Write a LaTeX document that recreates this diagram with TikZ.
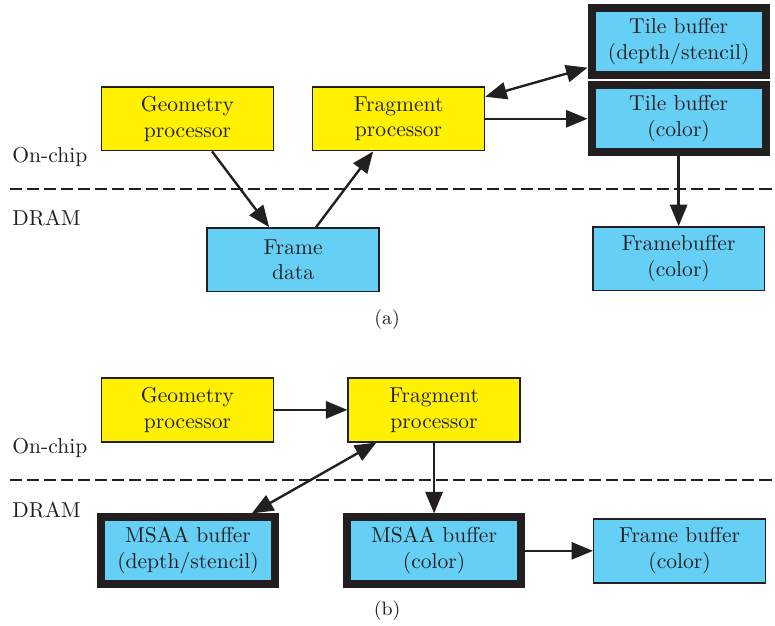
\documentclass[tikz,border=0pt]{standalone}
\usepackage{tikz}
\usetikzlibrary{arrows.meta,positioning}
\definecolor{ink}{HTML}{231F20}
\definecolor{chipyellow}{HTML}{FFF100}
\definecolor{dramblue}{HTML}{66CFF6}
\tikzset{
  flowarr/.style={-{Triangle[length=3.5mm,width=2.8mm]},line width=1.1pt,color=ink},
  botharr/.style={{Triangle[length=3.5mm,width=2.8mm]}-{Triangle[length=3.5mm,width=2.8mm]},line width=1.1pt,color=ink},
  procbox/.style={draw=ink,fill=chipyellow,line width=0.7pt,minimum width=2.80cm,minimum height=1.04cm,align=center,text=ink},
  membox/.style={draw=ink,fill=dramblue,line width=0.7pt,minimum width=2.80cm,minimum height=1.04cm,align=center,text=ink},
  tilebox/.style={membox,line width=3.7pt,minimum width=2.84cm,minimum height=1.09cm},
  chipline/.style={ink,line width=0.9pt,dash pattern=on 5.6pt off 2.3pt},
  zonelabel/.style={anchor=west,text=ink,inner sep=0pt}
}

\begin{document}
\begin{tikzpicture}[x=1cm,y=1cm]
  \useasboundingbox (0,0) rectangle (12.63,10.20);
  % (a) tiled rendering
  \node[procbox] (geoA) at (3.056,8.264) {Geometry\\processor};
  \node[procbox] (fragA) at (6.496,8.264) {Fragment\\processor};
  \node[tilebox] (tileDS) at (11.06,9.527) {Tile buffer\\(depth/stencil)};
  \node[tilebox] (tileC) at (11.06,8.264) {Tile buffer\\(color)};
  \node[membox] (frameData) at (4.776,5.966) {Frame\\data};
  \node[membox] (fbA) at (11.06,5.982) {Framebuffer\\(color)};
  \draw[chipline] (0.16,7.123) -- (12.63,7.123);
  \node[zonelabel] (chipA) at (0.196,7.645) {On-chip};
  \node[zonelabel] (dramA) at (0.196,6.65) {DRAM};
  \node[text=ink] (capA) at (6.31,4.99) {\small (a)};
  \draw[flowarr] ([xshift=0.4cm]geoA.south) -- ([xshift=-0.39cm]frameData.north);
  \draw[flowarr] ([xshift=0.375cm]frameData.north) -- ([xshift=-0.415cm]fragA.south);
  \draw[botharr] ([yshift=0.36cm]fragA.east) -- ([yshift=-0.43cm]tileDS.west);
  \draw[flowarr] (fragA.east) -- (tileC.west);
  \draw[flowarr] (tileC.south) -- (fbA.north);
  % (b) immediate mode with MSAA
  \node[procbox] (geoB) at (3.056,3.52) {Geometry\\processor};
  \node[procbox] (fragB) at (7.074,3.52) {Fragment\\processor};
  \node[tilebox] (msaaDS) at (3.064,1.2225) {MSAA buffer\\(depth/stencil)};
  \node[tilebox] (msaaC) at (7.074,1.2225) {MSAA buffer\\(color)};
  \node[membox] (fbB) at (11.076,1.2225) {Frame buffer\\(color)};
  \draw[chipline] (0.16,2.38) -- (12.63,2.38);
  \node[zonelabel] (chipB) at (0.196,2.90) {On-chip};
  \node[zonelabel] (dramB) at (0.196,1.89) {DRAM};
  \node[text=ink] (capB) at (6.31,0.245) {\small (b)};
  \draw[flowarr] (geoB.east) -- (fragB.west);
  \draw[botharr] ([xshift=-0.94cm]fragB.south) -- ([xshift=1.04cm]msaaDS.north);
  \draw[flowarr] (fragB.south) -- (msaaC.north);
  \draw[flowarr] (msaaC.east) -- (fbB.west);
\end{tikzpicture}
\end{document}
